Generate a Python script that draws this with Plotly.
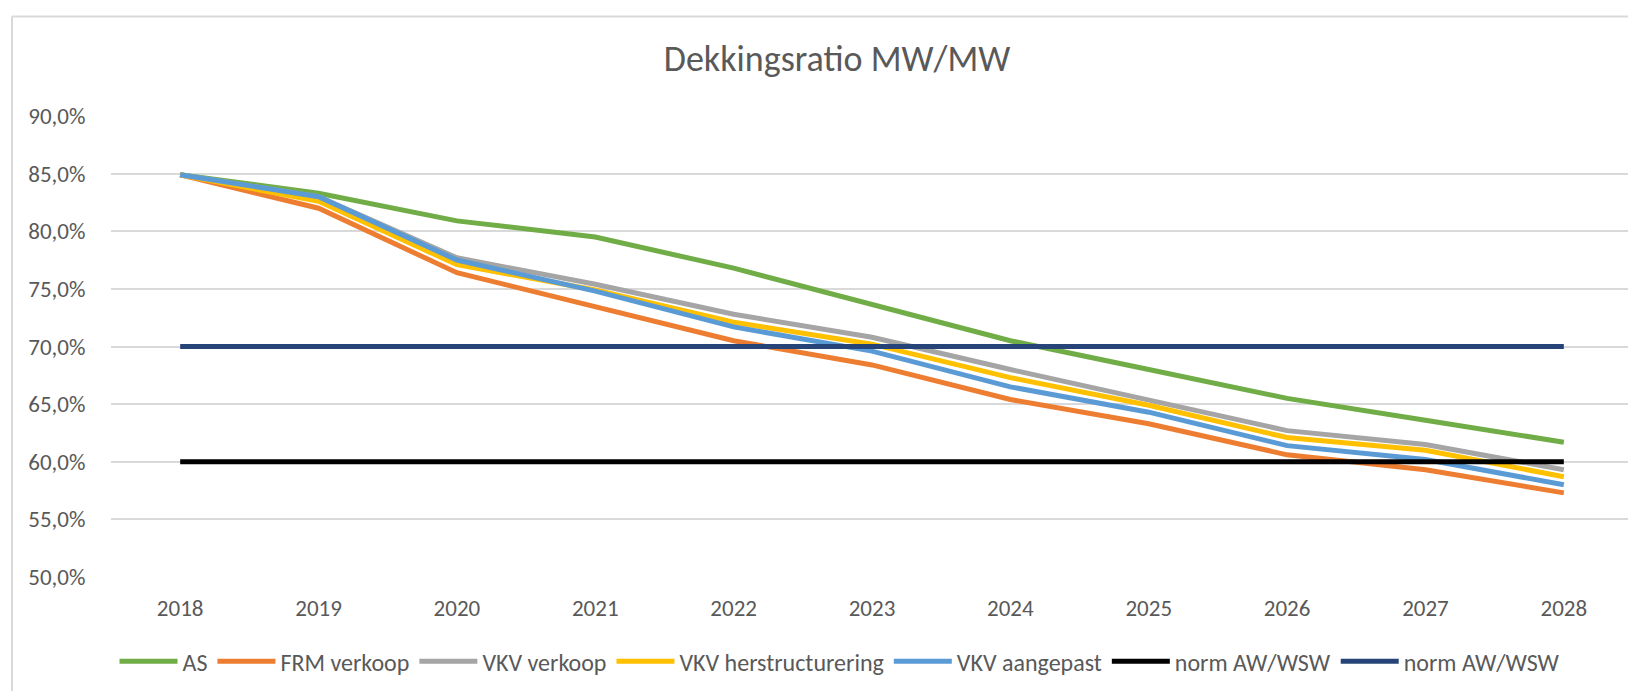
import plotly.graph_objects as go

years = ["2018", "2019", "2020", "2021", "2022", "2023", "2024", "2025", "2026", "2027", "2028"]

as_vals = [84.9, 83.3, 80.9, 79.5, 76.8, 73.6, 70.5, 68.0, 65.5, 63.6, 61.7]
frm_verkoop = [84.9, 82.0, 76.4, 73.4, 70.5, 68.4, 65.4, 63.3, 60.6, 59.3, 57.3]
vkv_verkoop = [84.9, 83.0, 77.7, 75.4, 72.8, 70.8, 68.0, 65.4, 62.7, 61.5, 59.3]
vkv_herstructurering = [84.9, 82.6, 77.1, 74.9, 72.1, 70.2, 67.3, 64.9, 62.1, 61.0, 58.7]
vkv_aangepast = [84.9, 83.0, 77.5, 74.8, 71.7, 69.6, 66.5, 64.3, 61.4, 60.2, 58.0]
norm_60 = [60.0] * 11
norm_70 = [70.0] * 11

series = [
    ("AS", as_vals, "#70AD47"),
    ("FRM verkoop", frm_verkoop, "#ED7D31"),
    ("VKV verkoop", vkv_verkoop, "#A5A5A5"),
    ("VKV herstructurering", vkv_herstructurering, "#FFC000"),
    ("VKV aangepast", vkv_aangepast, "#5B9BD5"),
    ("norm AW/WSW", norm_60, "#000000"),
    ("norm AW/WSW", norm_70, "#264478"),
]

FONT = "Calibri, Carlito, Lato, sans-serif"
TXT = "#595959"

fig = go.Figure()
for name, vals, color in series:
    fig.add_trace(go.Scatter(x=years, y=vals, name=name, mode="lines",
                             line=dict(color=color, width=5)))

# page has an 8px body margin; work in window pixels and convert
OFF = 8
WIN_W, WIN_H = 1636, 691
W, H = WIN_W - OFF, WIN_H - OFF
plot_left, plot_right = 111, 1633      # window px
plot_top, plot_bottom = 115.7, 577.3   # window px
L = plot_left - OFF
R = W - (plot_right - OFF)
T = plot_top - OFF
B = H - (plot_bottom - OFF)
pw = W - L - R
ph = H - T - B

def px2x(p):
    return (p - OFF - L) / pw

def py2y(p):
    return (H - B - (p - OFF)) / ph

fig.update_layout(
    width=W, height=H,
    margin=dict(l=L, r=R, t=T, b=B, pad=0),
    paper_bgcolor="white", plot_bgcolor="white",
    separators=",.",
    font=dict(family=FONT, color=TXT, size=23),
    title=dict(text="Dekkingsratio MW/MW", x=px2x(837), xref="paper", xanchor="center",
               y=1 - (58 - OFF) / H, yanchor="middle",
               font=dict(family=FONT, size=36, color=TXT)),
    xaxis=dict(type="category", range=[-0.5, 10.5], showgrid=False, showline=False,
               ticks="outside", ticklen=10, tickcolor="rgba(0,0,0,0)",
               tickfont=dict(size=23, color=TXT)),
    yaxis=dict(range=[50, 90], dtick=5, tick0=50, tickformat=".1f", ticksuffix="%",
               showgrid=True, gridcolor="#D9D9D9", gridwidth=1.5, zeroline=False,
               ticks="outside", ticklen=20, tickcolor="rgba(0,0,0,0)",
               tickfont=dict(size=23, color=TXT)),
    legend=dict(orientation="h", x=px2x(840), xanchor="center", y=py2y(662), yanchor="middle",
                font=dict(size=24, color=TXT), itemwidth=58, tracegroupgap=0),
    showlegend=True,
    shapes=[
        dict(type="line", xref="paper", yref="paper", x0=px2x(12), x1=px2x(12),
             y0=py2y(16), y1=py2y(700), line=dict(color="#D9D9D9", width=2)),
        dict(type="line", xref="paper", yref="paper", x0=px2x(12), x1=px2x(1640),
             y0=py2y(16), y1=py2y(16), line=dict(color="#D9D9D9", width=2)),
    ],
)

fig.write_html("out.html")
